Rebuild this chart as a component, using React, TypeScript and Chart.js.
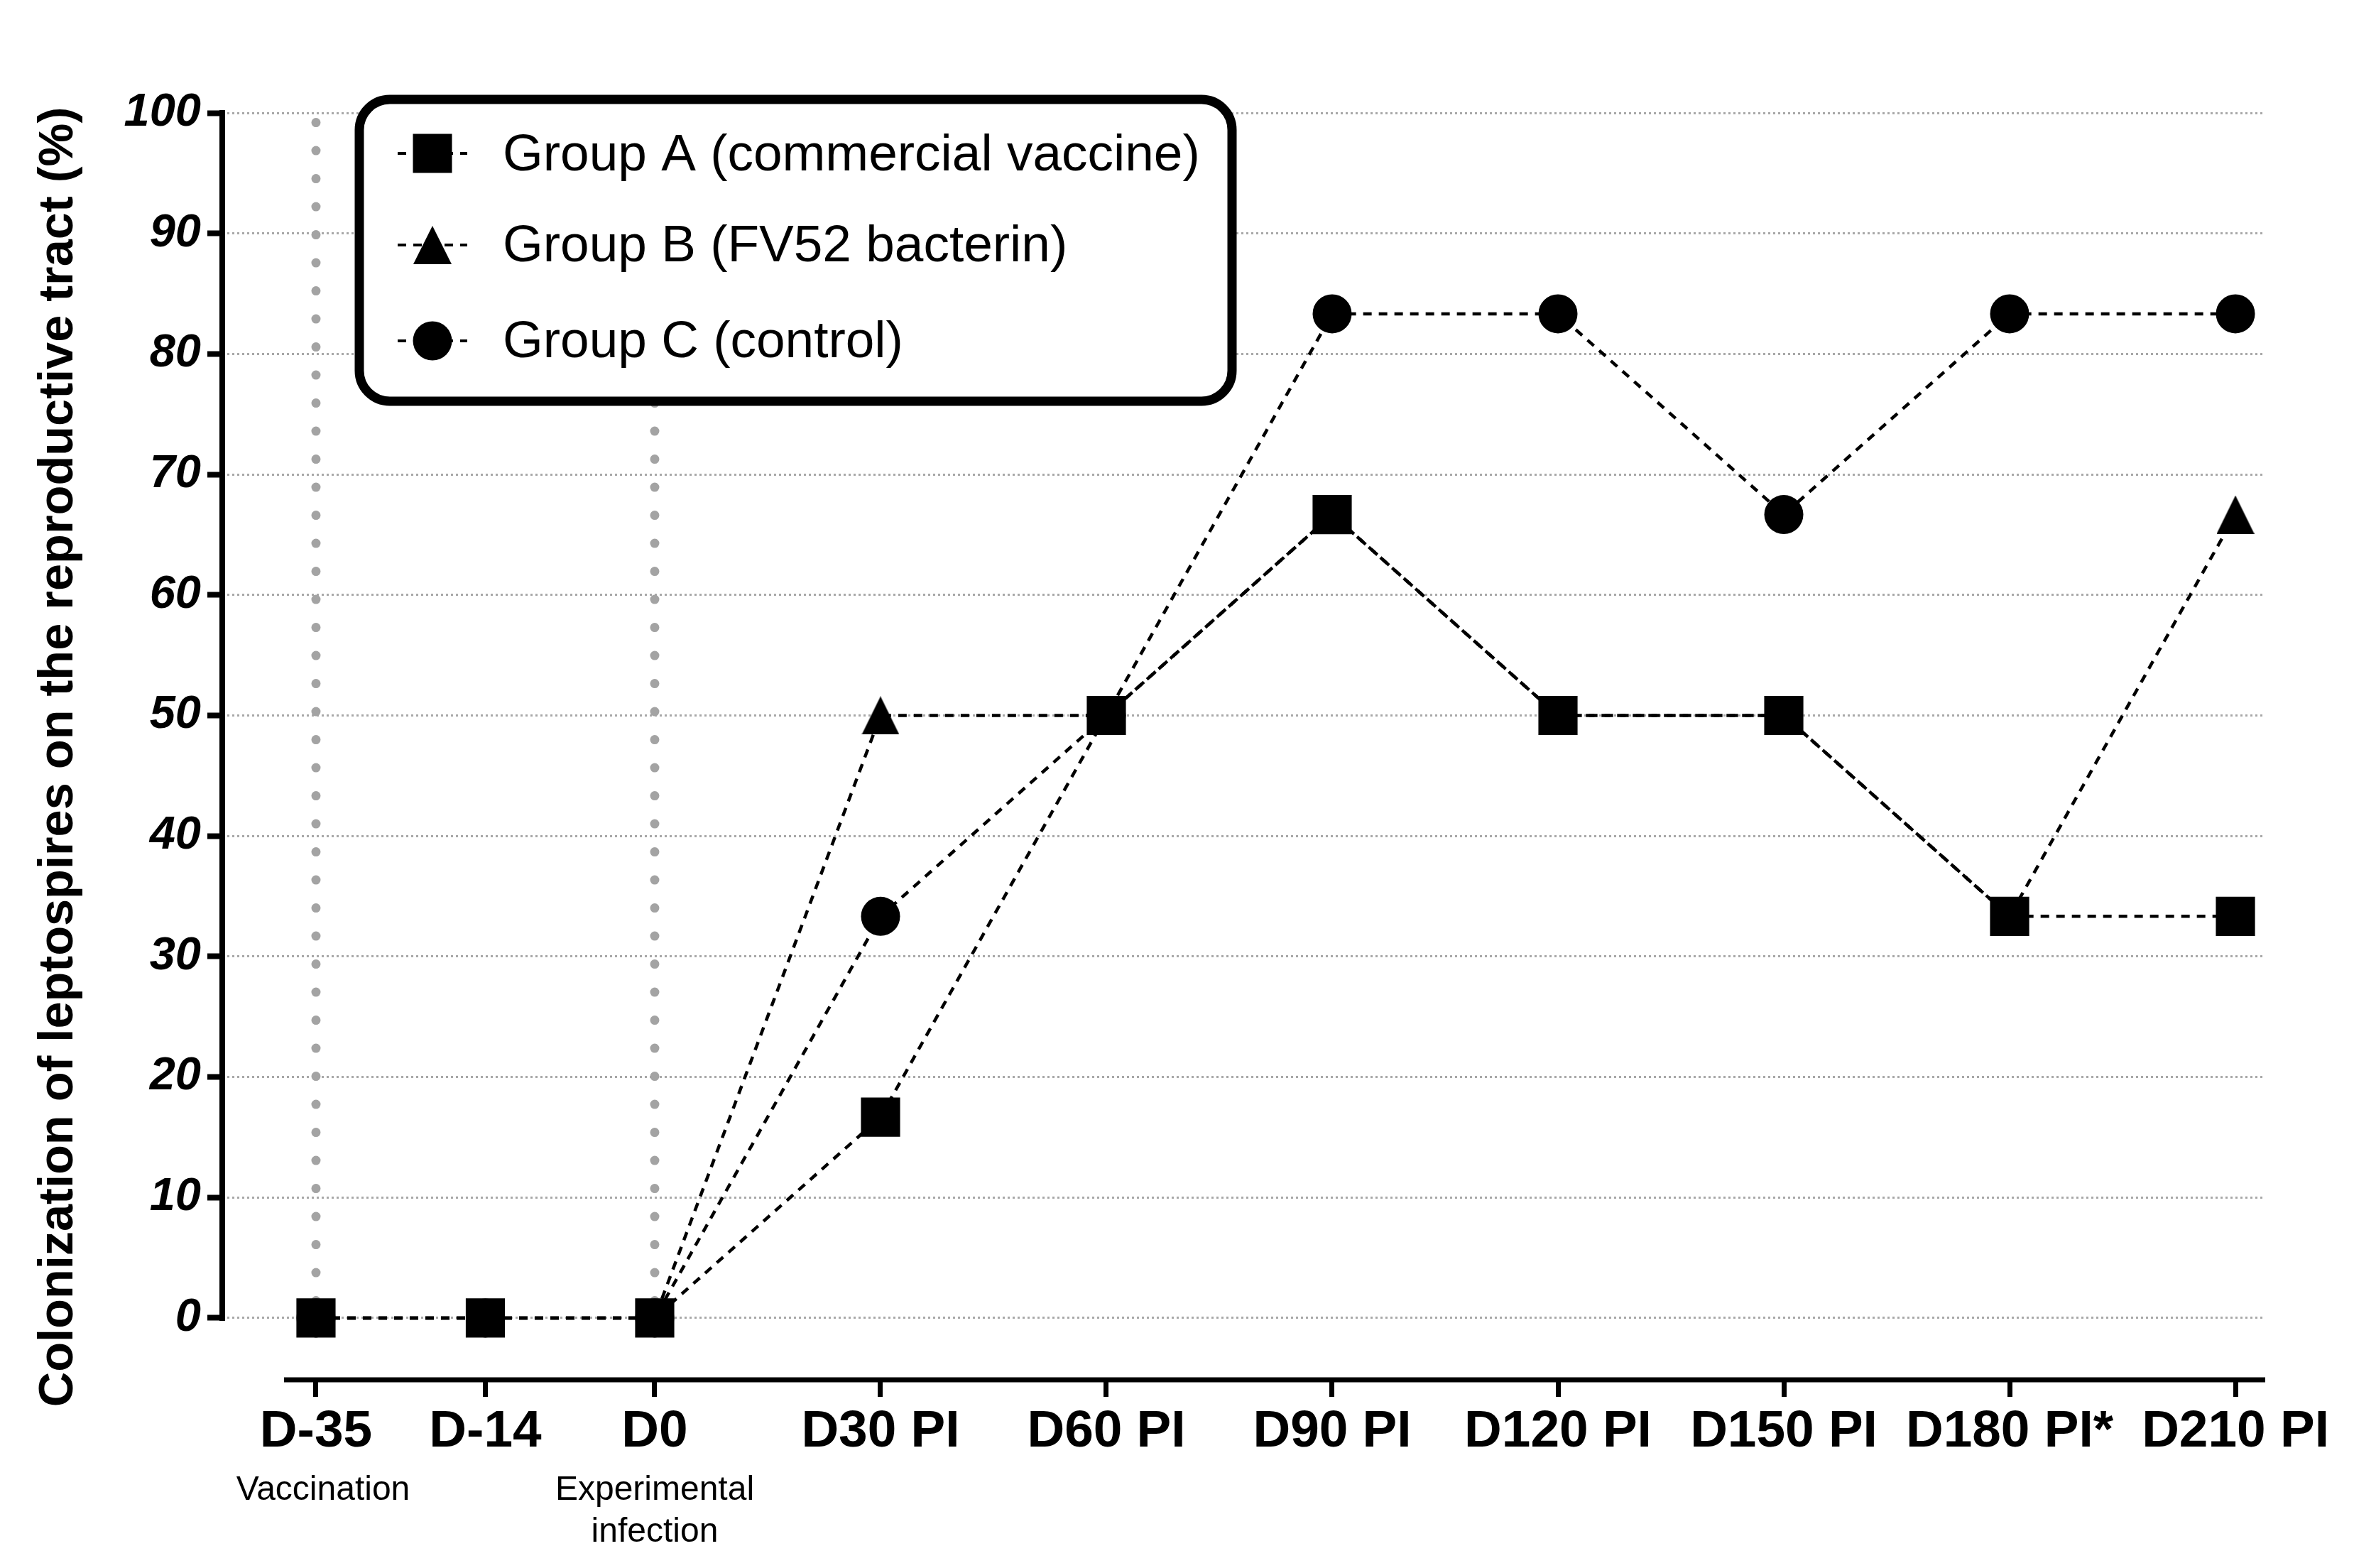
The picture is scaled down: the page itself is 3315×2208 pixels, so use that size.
import React, { useEffect, useRef } from 'react';
import { Chart, registerables } from 'chart.js';

Chart.register(...registerables);

// ---- data ----
const categories = ['D-35', 'D-14', 'D0', 'D30 PI', 'D60 PI', 'D90 PI', 'D120 PI', 'D150 PI', 'D180 PI*', 'D210 PI'];
// plotting position of each category on the (unevenly spaced) x axis
const xPositions = [-1.5, -0.75, 0, 1, 2, 3, 4, 5, 6, 7];
const groupA = [0, 0, 0, 16.67, 50, 66.67, 50, 50, 33.33, 33.33];
const groupB = [0, 0, 0, 50, 50, 66.67, 50, 50, 33.33, 66.67];
const groupC = [0, 0, 0, 33.33, 50, 83.33, 83.33, 66.67, 83.33, 83.33];
const seriesNames = ['Group A (commercial vaccine)', 'Group B (FV52 bacterin)', 'Group C (control)'];
const yTickValues = [0, 10, 20, 30, 40, 50, 60, 70, 80, 90, 100];
const eventMarkers = [
  { at: 'D-35', lines: ['Vaccination'] },
  { at: 'D0', lines: ['Experimental', 'infection'] },
];
const yTitle = 'Colonization of leptospires on the reproductive tract (%)';

const FONT = '"Liberation Sans", Arial, Helvetica, sans-serif';

function makeTriangle(w: number, h: number): HTMLCanvasElement {
  const c = document.createElement('canvas');
  c.width = w;
  c.height = h;
  const g = c.getContext('2d')!;
  g.fillStyle = '#000';
  g.beginPath();
  g.moveTo(w / 2, 0);
  g.lineTo(w, h);
  g.lineTo(0, h);
  g.closePath();
  g.fill();
  return c;
}

function drawMarker(ctx: CanvasRenderingContext2D, kind: string, cx: number, cy: number) {
  ctx.fillStyle = '#000';
  if (kind === 'square') {
    ctx.fillRect(cx - 27.5, cy - 27.5, 55, 55);
  } else if (kind === 'triangle') {
    ctx.beginPath();
    ctx.moveTo(cx, cy - 27);
    ctx.lineTo(cx + 27, cy + 27);
    ctx.lineTo(cx - 27, cy + 27);
    ctx.closePath();
    ctx.fill();
  } else {
    ctx.beginPath();
    ctx.arc(cx, cy, 27.5, 0, Math.PI * 2);
    ctx.fill();
  }
}

const decorPlugin = {
  id: 'decor',
  beforeDraw(chart: any) {
    const { ctx, width, height } = chart;
    ctx.save();
    ctx.fillStyle = '#fff';
    ctx.fillRect(0, 0, width, height);
    ctx.restore();
  },
  beforeDatasetsDraw(chart: any) {
    const { ctx } = chart;
    const x = chart.scales.x;
    const y = chart.scales.y;
    ctx.save();
    ctx.strokeStyle = '#a3a3a3';
    ctx.lineWidth = 13;
    ctx.lineCap = 'round';
    ctx.setLineDash([0, 39.5]);
    for (const m of eventMarkers) {
      const px = x.getPixelForValue(xPositions[categories.indexOf(m.at)]);
      ctx.beginPath();
      ctx.moveTo(px, y.getPixelForValue(99.2));
      ctx.lineTo(px, y.getPixelForValue(0));
      ctx.stroke();
    }
    ctx.restore();
  },
  afterDraw(chart: any) {
    const { ctx, chartArea } = chart;
    const x = chart.scales.x;
    const y = chart.scales.y;
    ctx.save();

    // y axis line (0..100 only)
    ctx.strokeStyle = '#000';
    ctx.lineWidth = 8;
    ctx.setLineDash([]);
    ctx.beginPath();
    ctx.moveTo(chartArea.left, y.getPixelForValue(100) - 4);
    ctx.lineTo(chartArea.left, y.getPixelForValue(0) + 4);
    ctx.stroke();

    // x axis line (offset, starts right of the y axis)
    ctx.lineWidth = 7;
    ctx.beginPath();
    ctx.moveTo(400, chartArea.bottom);
    ctx.lineTo(chartArea.right, chartArea.bottom);
    ctx.stroke();

    // event sub-labels under x ticks
    ctx.fillStyle = '#000';
    ctx.font = `48px ${FONT}`;
    ctx.textAlign = 'center';
    ctx.textBaseline = 'alphabetic';
    for (const m of eventMarkers) {
      const px = x.getPixelForValue(xPositions[categories.indexOf(m.at)]);
      const shift = m.lines.length === 1 ? 10 : 0;
      m.lines.forEach((t, i) => ctx.fillText(t, px + shift, 2112 + i * 59));
    }

    // y title
    ctx.save();
    ctx.translate(102, 1066);
    ctx.rotate(-Math.PI / 2);
    ctx.font = `bold 68.5px ${FONT}`;
    ctx.textAlign = 'center';
    ctx.textBaseline = 'alphabetic';
    ctx.fillText(yTitle, 0, 0);
    ctx.restore();

    // legend box
    const bx = 506, by = 140, bw = 1735 - 506, bh = 565 - 140, r = 43;
    ctx.beginPath();
    ctx.moveTo(bx + r, by);
    ctx.lineTo(bx + bw - r, by);
    ctx.arcTo(bx + bw, by, bx + bw, by + r, r);
    ctx.lineTo(bx + bw, by + bh - r);
    ctx.arcTo(bx + bw, by + bh, bx + bw - r, by + bh, r);
    ctx.lineTo(bx + r, by + bh);
    ctx.arcTo(bx, by + bh, bx, by + bh - r, r);
    ctx.lineTo(bx, by + r);
    ctx.arcTo(bx, by, bx + r, by, r);
    ctx.closePath();
    ctx.fillStyle = '#fff';
    ctx.fill();
    ctx.lineWidth = 13;
    ctx.strokeStyle = '#000';
    ctx.stroke();

    const rows = [216, 345, 480];
    const baselines = [240, 368, 503];
    const kinds = ['square', 'triangle', 'circle'];
    seriesNames.forEach((name, i) => {
      ctx.strokeStyle = '#000';
      ctx.lineWidth = 4;
      ctx.setLineDash([12, 10]);
      ctx.beginPath();
      ctx.moveTo(560, rows[i]);
      ctx.lineTo(658, rows[i]);
      ctx.stroke();
      ctx.setLineDash([]);
      drawMarker(ctx, kinds[i], 609, rows[i]);
      ctx.fillStyle = '#000';
      ctx.font = `73px ${FONT}`;
      ctx.textAlign = 'left';
      ctx.textBaseline = 'alphabetic';
      ctx.fillText(name, 708, baselines[i]);
    });

    ctx.restore();
  },
};

export default function App() {
  const ref = useRef<HTMLCanvasElement | null>(null);

  useEffect(() => {
    if (!ref.current) return;
    const tri = makeTriangle(53, 54);
    const toPts = (arr: number[]) => arr.map((v, i) => ({ x: xPositions[i], y: v }));
    const base = {
      borderColor: '#000',
      borderWidth: 4.5,
      borderDash: [12, 10],
      pointBackgroundColor: '#000',
      pointBorderColor: '#000',
      pointBorderWidth: 0,
      fill: false,
      tension: 0,
    };
    const chart = new Chart(ref.current, {
      type: 'line',
      data: {
        datasets: [
          { ...base, label: seriesNames[0], data: toPts(groupA), pointStyle: 'rect', pointRadius: 39 },
          { ...base, label: seriesNames[1], data: toPts(groupB), pointStyle: tri as any, pointRadius: 27 },
          { ...base, label: seriesNames[2], data: toPts(groupC), pointStyle: 'circle', pointRadius: 27.5 },
        ] as any,
      },
      options: {
        animation: false,
        responsive: false,
        devicePixelRatio: 1,
        events: [],
        layout: { padding: { left: 0, top: 159, right: 125, bottom: 0 } },
        plugins: { legend: { display: false }, tooltip: { enabled: false } },
        scales: {
          x: {
            type: 'linear',
            min: -1.915,
            max: 7.132,
            afterFit: (s: any) => { s.height = 265; },
            afterBuildTicks: (s: any) => { s.ticks = xPositions.map((v) => ({ value: v })); },
            border: { display: false },
            grid: {
              drawOnChartArea: false,
              drawTicks: true,
              tickLength: 24,
              tickWidth: 7,
              tickColor: '#000',
              color: 'rgba(0,0,0,0)',
            },
            ticks: {
              autoSkip: false,
              maxRotation: 0,
              minRotation: 0,
              padding: 6,
              color: '#000',
              font: { family: FONT, size: 73, weight: 'bold' },
              callback: (value: any) => {
                const i = xPositions.indexOf(Number(value));
                return i >= 0 ? categories[i] : '';
              },
            },
          },
          y: {
            type: 'linear',
            min: -5.13,
            max: 100,
            afterFit: (s: any) => { s.width = 313; },
            afterBuildTicks: (s: any) => { s.ticks = yTickValues.map((v) => ({ value: v })); },
            border: { display: false, dash: [3, 4] },
            grid: {
              color: '#a8a8a8',
              lineWidth: 3,
              drawTicks: true,
              tickLength: 21,
              tickWidth: 8,
              tickColor: '#000',
              tickBorderDash: [],
            },
            ticks: {
              autoSkip: false,
              padding: 9,
              color: '#000',
              font: { family: FONT, size: 65, weight: 'bold', style: 'italic' },
            },
          },
        },
      } as any,
      plugins: [decorPlugin as any],
    });
    return () => chart.destroy();
  }, []);

  return (
    <div style={{ position: 'fixed', left: 0, top: 0, width: 3315, height: 2208, background: '#fff' }}>
      <canvas ref={ref} width={3315} height={2208} style={{ width: 3315, height: 2208, display: 'block' }} />
    </div>
  );
}
